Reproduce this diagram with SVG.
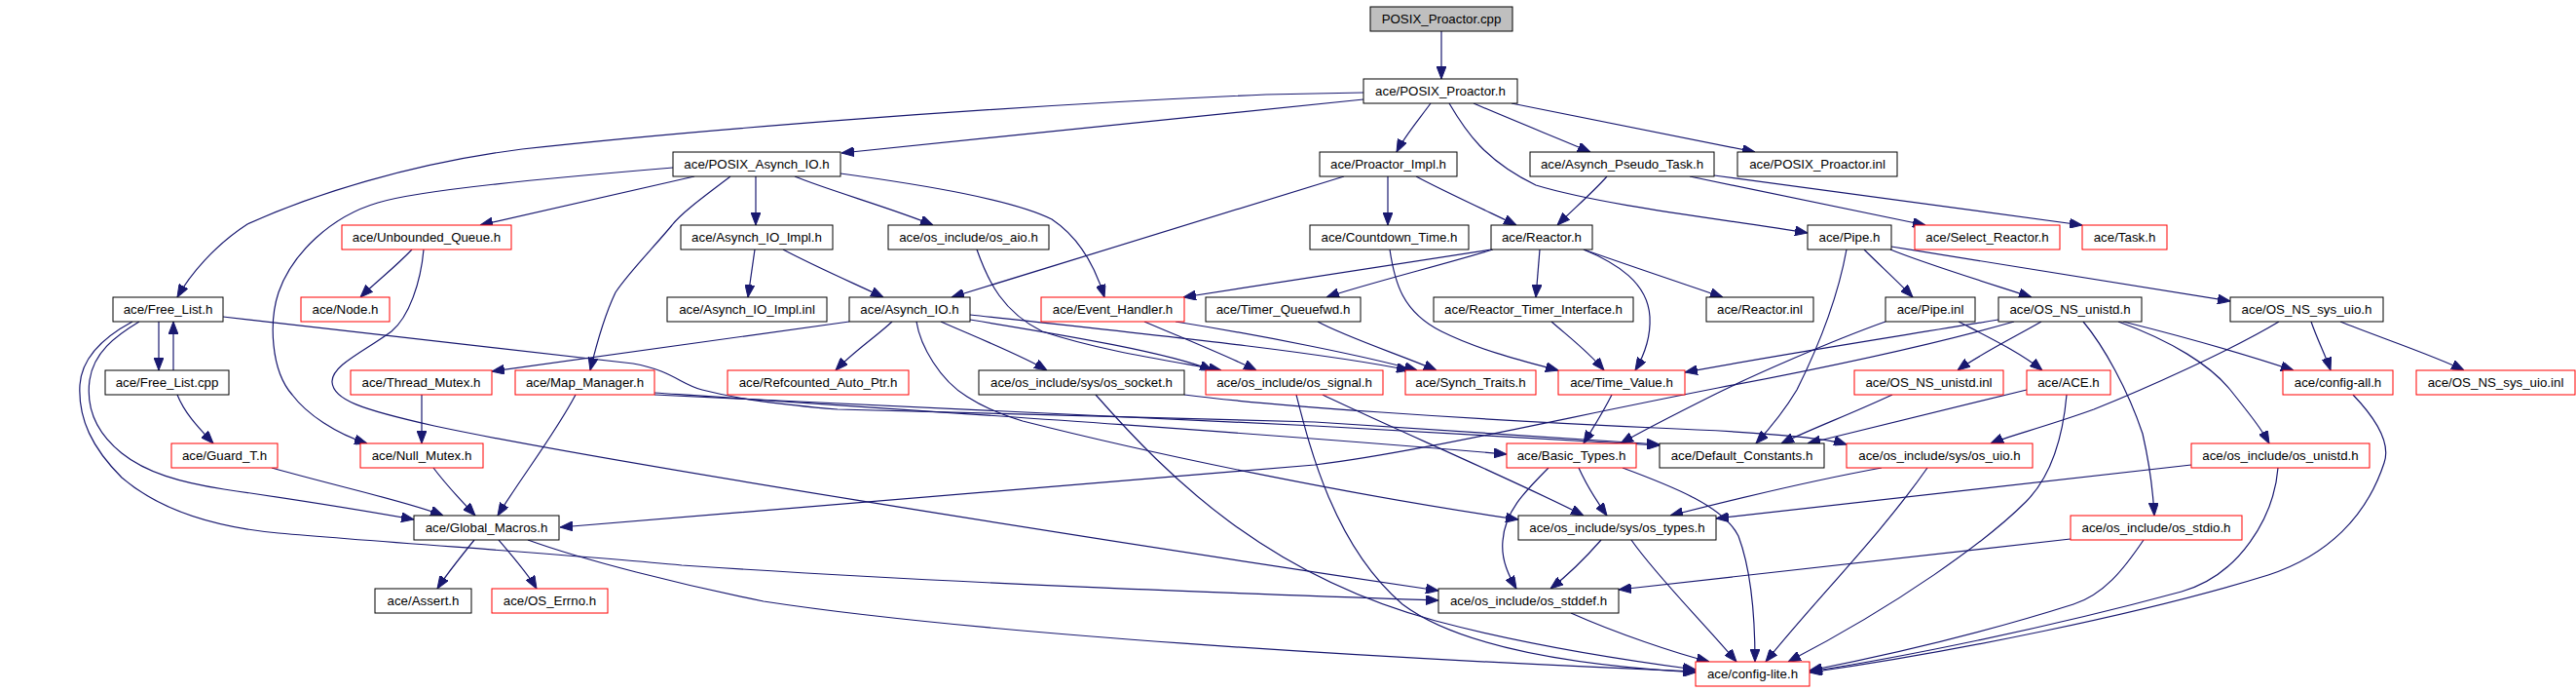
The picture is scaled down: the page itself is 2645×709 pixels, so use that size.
<svg xmlns="http://www.w3.org/2000/svg" width="2645" height="709" viewBox="0 0 2645 709">
<style>
rect{fill:#fff;stroke:#000;stroke-width:1}
.r rect{stroke:#ff0000}
.g rect{fill:#bfbfbf}
text{font-family:"Liberation Sans",Arial,sans-serif;font-size:13.3px;text-anchor:middle;fill:#000}
#edges path{fill:none;stroke:#191970;stroke-width:1.2}
</style>
<defs>
<marker id="a" markerWidth="13" markerHeight="10" refX="13" refY="5" orient="auto" markerUnits="userSpaceOnUse"><path d="M0,0 L13,5 L0,10 z" fill="#191970" stroke="#191970" stroke-width="1"/></marker>
</defs>
<rect x="0" y="0" width="2645" height="709" style="fill:#fff;stroke:none"/>
<g id="edges" marker-end="url(#a)">
<path d="M1480,32 L1480,81"/>
<path d="M1400,95 L1300,97 C1000,110 700,135 536,153 C420,168 320,200 254,230 C220,252 195,282 182,305"/>
<path d="M1400,102 L864,157"/>
<path d="M1469,106 C1455,125 1442,140 1434,156"/>
<path d="M1513,106 C1550,122 1600,142 1633,156"/>
<path d="M1552,106 L1802,156"/>
<path d="M1488,106 C1505,135 1525,165 1577,190 C1650,212 1780,226 1856,239"/>
<path d="M713,181 L493,231"/>
<path d="M691,172 C560,183 430,195 388,208 C340,222 300,260 286,300 C276,330 278,380 300,405 C315,425 345,445 377,455"/>
<path d="M750,181 C725,200 700,218 690,231 C672,253 645,280 632,300 C620,325 612,355 606,380"/>
<path d="M776,181 L776,231"/>
<path d="M816,181 C850,195 920,215 958,231"/>
<path d="M863,178 C950,190 1040,205 1080,225 C1110,245 1125,275 1134,305"/>
<path d="M423,256 C405,275 385,290 370,305"/>
<path d="M435,256 C432,290 420,325 402,340 C375,360 340,375 341,392 C342,410 370,420 446,437 C600,470 1100,550 1477,606"/>
<path d="M775,256 L768,305"/>
<path d="M804,256 C840,275 880,292 907,305"/>
<path d="M1380,181 L977,305"/>
<path d="M1425,181 L1425,231"/>
<path d="M1454,181 C1480,195 1530,218 1557,231"/>
<path d="M1650,181 C1635,198 1615,215 1599,231"/>
<path d="M1735,181 L1977,231"/>
<path d="M1760,180 L2138,231"/>
<path d="M1003,256 C1015,290 1030,320 1070,340 C1130,360 1200,370 1254,380"/>
<path d="M1427,256 C1432,290 1440,320 1480,340 C1520,360 1570,372 1600,380"/>
<path d="M1531,256 L1215,305"/>
<path d="M1533,256 C1480,272 1400,292 1362,305"/>
<path d="M1581,256 L1577,305"/>
<path d="M1626,256 C1660,270 1692,290 1694,325 C1695,345 1688,365 1679,380"/>
<path d="M1626,256 C1680,275 1740,295 1769,305"/>
<path d="M1914,256 C1930,272 1950,290 1964,305"/>
<path d="M1941,256 C1975,270 2040,290 2086,305"/>
<path d="M1942,253 L2290,309"/>
<path d="M1896,256 C1888,300 1870,350 1845,400 C1830,425 1815,442 1803,455"/>
<path d="M163,330 L163,380"/>
<path d="M178,380 L178,330"/>
<path d="M143,330 C118,345 96,362 92,390 C88,420 100,445 125,465 C150,485 185,495 230,502 C320,515 380,525 425,533"/>
<path d="M136,330 C108,345 84,365 82,395 C80,430 95,460 125,490 C160,520 210,540 286,547 C400,557 600,570 700,580 C1000,600 1300,610 1477,616"/>
<path d="M229,325 L650,373 C690,380 700,395 721,400 C760,410 800,415 860,420 L1350,433 L1704,456"/>
<path d="M672,403 C1000,425 1300,445 1547,466"/>
<path d="M672,405 L1350,437 L1704,457"/>
<path d="M591,405 C570,445 535,490 511,529"/>
<path d="M433,405 L433,455"/>
<path d="M445,480 C460,500 475,515 488,529"/>
<path d="M279,480 C350,500 420,515 455,529"/>
<path d="M182,405 C190,425 205,440 219,455"/>
<path d="M487,554 C470,575 458,590 449,604"/>
<path d="M512,554 C530,575 543,590 551,604"/>
<path d="M542,554 C600,575 700,600 784,617 C1000,650 1400,675 1741,689"/>
<path d="M872,330 L505,381"/>
<path d="M916,330 C900,345 875,362 858,380"/>
<path d="M966,330 C1000,345 1050,365 1075,380"/>
<path d="M996,328 C1100,345 1200,362 1245,380"/>
<path d="M996,323 C1150,340 1350,360 1447,380"/>
<path d="M941,330 C945,355 965,390 993,407 C1010,418 1030,426 1050,432 C1200,470 1400,510 1559,533"/>
<path d="M1175,330 C1210,345 1260,365 1290,380"/>
<path d="M1207,330 C1300,345 1400,365 1455,380"/>
<path d="M1353,330 C1380,345 1440,365 1475,380"/>
<path d="M1593,330 C1610,345 1630,360 1647,380"/>
<path d="M1358,405 C1420,435 1560,495 1626,529"/>
<path d="M1331,405 C1345,460 1370,560 1440,620 C1500,665 1620,683 1741,690"/>
<path d="M1216,405 C1300,416 1500,430 1700,439 C1800,443 1870,448 1896,456"/>
<path d="M1125,405 C1200,490 1300,590 1474,637 C1560,660 1650,675 1741,687"/>
<path d="M1655,405 C1645,425 1635,440 1626,455"/>
<path d="M1621,480 C1630,500 1640,515 1650,529"/>
<path d="M1590,480 C1565,505 1545,525 1543,555 C1541,575 1550,592 1557,604"/>
<path d="M1666,480 C1720,500 1770,520 1785,550 C1800,590 1802,640 1802,679"/>
<path d="M1644,554 C1630,570 1610,590 1592,604"/>
<path d="M1675,554 C1700,590 1750,640 1783,679"/>
<path d="M1613,629 C1660,650 1720,670 1755,679"/>
<path d="M2126,553 L1662,605"/>
<path d="M2201,554 C2180,585 2160,610 2129,620 C2050,645 1950,670 1858,688"/>
<path d="M2250,477 L1762,532"/>
<path d="M2339,480 C2335,530 2300,590 2240,607 C2100,645 1950,675 1858,689"/>
<path d="M1932,480 C1850,495 1770,515 1715,529"/>
<path d="M1979,480 C1930,550 1860,620 1813,679"/>
<path d="M2340,330 C2290,360 2200,400 2150,420 C2100,438 2060,448 2044,455"/>
<path d="M2373,330 C2380,350 2388,365 2393,380"/>
<path d="M2403,330 C2440,345 2500,365 2530,380"/>
<path d="M2096,330 C2070,345 2030,365 2010,380"/>
<path d="M2139,330 C2160,355 2185,400 2200,445 C2208,480 2211,510 2212,529"/>
<path d="M2175,330 C2230,350 2270,375 2290,400 C2310,425 2322,440 2330,455"/>
<path d="M2180,330 C2240,345 2310,365 2355,380"/>
<path d="M2052,328 C1950,345 1850,360 1730,382"/>
<path d="M1936,330 C1880,350 1800,385 1760,405 C1720,425 1690,440 1664,455"/>
<path d="M2068,330 C1980,355 1860,380 1764,398 C1600,430 1450,465 1350,477 L575,541"/>
<path d="M2011,330 C2040,345 2075,362 2097,380"/>
<path d="M2081,400 C2000,420 1920,440 1856,455"/>
<path d="M2122,405 C2118,450 2105,490 2080,515 C2040,555 1950,620 1836,679"/>
<path d="M1943,405 C1900,425 1860,440 1829,455"/>
<path d="M2416,405 C2440,430 2455,455 2448,475 C2430,530 2390,570 2329,590 C2200,630 2000,670 1858,690"/>
</g>
<g id="n1" class="g"><rect x="1407" y="7" width="146" height="25"/><text x="1480" y="24">POSIX_Proactor.cpp</text></g>
<g id="n2"><rect x="1400" y="81" width="158" height="25"/><text x="1479" y="98">ace/POSIX_Proactor.h</text></g>
<g id="n3"><rect x="691" y="156" width="172" height="25"/><text x="777" y="173">ace/POSIX_Asynch_IO.h</text></g>
<g id="n4"><rect x="1355" y="156" width="141" height="25"/><text x="1425.5" y="173">ace/Proactor_Impl.h</text></g>
<g id="n5"><rect x="1571" y="156" width="189" height="25"/><text x="1665.5" y="173">ace/Asynch_Pseudo_Task.h</text></g>
<g id="n6"><rect x="1784" y="156" width="164" height="25"/><text x="1866" y="173">ace/POSIX_Proactor.inl</text></g>
<g id="n7" class="r"><rect x="351" y="231" width="174" height="25"/><text x="438" y="248">ace/Unbounded_Queue.h</text></g>
<g id="n8"><rect x="699" y="231" width="156" height="25"/><text x="777" y="248">ace/Asynch_IO_Impl.h</text></g>
<g id="n9"><rect x="912" y="231" width="165" height="25"/><text x="994.5" y="248">ace/os_include/os_aio.h</text></g>
<g id="n10"><rect x="1345" y="231" width="163" height="25"/><text x="1426.5" y="248">ace/Countdown_Time.h</text></g>
<g id="n11"><rect x="1531" y="231" width="104" height="25"/><text x="1583" y="248">ace/Reactor.h</text></g>
<g id="n12"><rect x="1856" y="231" width="86" height="25"/><text x="1899" y="248">ace/Pipe.h</text></g>
<g id="n13" class="r"><rect x="1966" y="231" width="149" height="25"/><text x="2040.5" y="248">ace/Select_Reactor.h</text></g>
<g id="n14" class="r"><rect x="2138" y="231" width="87" height="25"/><text x="2181.5" y="248">ace/Task.h</text></g>
<g id="n15"><rect x="116" y="305" width="113" height="25"/><text x="172.5" y="322">ace/Free_List.h</text></g>
<g id="n16" class="r"><rect x="309" y="305" width="91" height="25"/><text x="354.5" y="322">ace/Node.h</text></g>
<g id="n17"><rect x="685" y="305" width="164" height="25"/><text x="767" y="322">ace/Asynch_IO_Impl.inl</text></g>
<g id="n18"><rect x="872" y="305" width="124" height="25"/><text x="934" y="322">ace/Asynch_IO.h</text></g>
<g id="n19" class="r"><rect x="1069" y="305" width="147" height="25"/><text x="1142.5" y="322">ace/Event_Handler.h</text></g>
<g id="n20"><rect x="1238" y="305" width="159" height="25"/><text x="1317.5" y="322">ace/Timer_Queuefwd.h</text></g>
<g id="n21"><rect x="1472" y="305" width="205" height="25"/><text x="1574.5" y="322">ace/Reactor_Timer_Interface.h</text></g>
<g id="n22"><rect x="1752" y="305" width="110" height="25"/><text x="1807" y="322">ace/Reactor.inl</text></g>
<g id="n23"><rect x="1936" y="305" width="92" height="25"/><text x="1982" y="322">ace/Pipe.inl</text></g>
<g id="n24"><rect x="2052" y="305" width="147" height="25"/><text x="2125.5" y="322">ace/OS_NS_unistd.h</text></g>
<g id="n25"><rect x="2290" y="305" width="157" height="25"/><text x="2368.5" y="322">ace/OS_NS_sys_uio.h</text></g>
<g id="n26"><rect x="108" y="380" width="127" height="25"/><text x="171.5" y="397">ace/Free_List.cpp</text></g>
<g id="n27" class="r"><rect x="360" y="380" width="145" height="25"/><text x="432.5" y="397">ace/Thread_Mutex.h</text></g>
<g id="n28" class="r"><rect x="529" y="380" width="143" height="25"/><text x="600.5" y="397">ace/Map_Manager.h</text></g>
<g id="n29" class="r"><rect x="747" y="380" width="186" height="25"/><text x="840" y="397">ace/Refcounted_Auto_Ptr.h</text></g>
<g id="n30"><rect x="1005" y="380" width="211" height="25"/><text x="1110.5" y="397">ace/os_include/sys/os_socket.h</text></g>
<g id="n31" class="r"><rect x="1238" y="380" width="182" height="25"/><text x="1329" y="397">ace/os_include/os_signal.h</text></g>
<g id="n32" class="r"><rect x="1443" y="380" width="134" height="25"/><text x="1510" y="397">ace/Synch_Traits.h</text></g>
<g id="n33" class="r"><rect x="1600" y="380" width="130" height="25"/><text x="1665" y="397">ace/Time_Value.h</text></g>
<g id="n34" class="r"><rect x="1904" y="380" width="153" height="25"/><text x="1980.5" y="397">ace/OS_NS_unistd.inl</text></g>
<g id="n35" class="r"><rect x="2081" y="380" width="86" height="25"/><text x="2124" y="397">ace/ACE.h</text></g>
<g id="n36" class="r"><rect x="2344" y="380" width="113" height="25"/><text x="2400.5" y="397">ace/config-all.h</text></g>
<g id="n37" class="r"><rect x="2481" y="380" width="163" height="25"/><text x="2562.5" y="397">ace/OS_NS_sys_uio.inl</text></g>
<g id="n38" class="r"><rect x="176" y="455" width="109" height="25"/><text x="230.5" y="472">ace/Guard_T.h</text></g>
<g id="n39" class="r"><rect x="370" y="455" width="126" height="25"/><text x="433" y="472">ace/Null_Mutex.h</text></g>
<g id="n40" class="r"><rect x="1547" y="455" width="133" height="25"/><text x="1613.5" y="472">ace/Basic_Types.h</text></g>
<g id="n41"><rect x="1704" y="455" width="169" height="25"/><text x="1788.5" y="472">ace/Default_Constants.h</text></g>
<g id="n42" class="r"><rect x="1896" y="455" width="191" height="25"/><text x="1991.5" y="472">ace/os_include/sys/os_uio.h</text></g>
<g id="n43" class="r"><rect x="2250" y="455" width="183" height="25"/><text x="2341.5" y="472">ace/os_include/os_unistd.h</text></g>
<g id="n44"><rect x="425" y="529" width="149" height="25"/><text x="499.5" y="546">ace/Global_Macros.h</text></g>
<g id="n45"><rect x="1559" y="529" width="203" height="25"/><text x="1660.5" y="546">ace/os_include/sys/os_types.h</text></g>
<g id="n46" class="r"><rect x="2126" y="529" width="176" height="25"/><text x="2214" y="546">ace/os_include/os_stdio.h</text></g>
<g id="n47"><rect x="385" y="604" width="99" height="25"/><text x="434.5" y="621">ace/Assert.h</text></g>
<g id="n48" class="r"><rect x="505" y="604" width="119" height="25"/><text x="564.5" y="621">ace/OS_Errno.h</text></g>
<g id="n49"><rect x="1477" y="604" width="185" height="25"/><text x="1569.5" y="621">ace/os_include/os_stddef.h</text></g>
<g id="n50" class="r"><rect x="1741" y="679" width="117" height="25"/><text x="1799.5" y="696">ace/config-lite.h</text></g>
</svg>
